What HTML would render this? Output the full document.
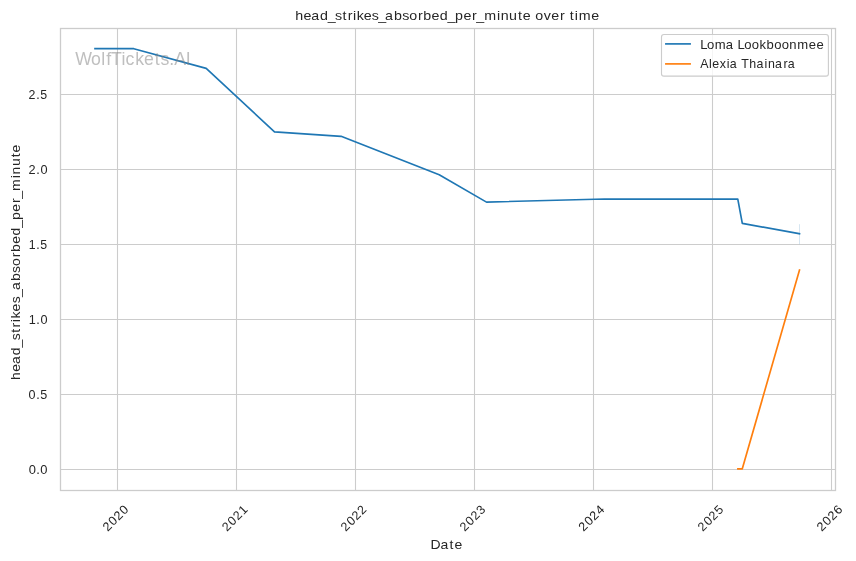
<!DOCTYPE html>
<html><head><meta charset="utf-8"><title>head_strikes_absorbed_per_minute over time</title>
<style>html,body{margin:0;padding:0;background:#fff;overflow:hidden;}svg{display:block;will-change:transform;}text{font-family:"Liberation Sans",sans-serif;}</style>
</head><body>
<svg width="856" height="561" viewBox="0 0 856 561">
<rect width="856" height="561" fill="#ffffff"/>
<path d="M117.5 28.5V490.5M236.5 28.5V490.5M355.5 28.5V490.5M474.5 28.5V490.5M593.5 28.5V490.5M712.5 28.5V490.5M831.5 28.5V490.5M60.5 94.5H835.5M60.5 169.5H835.5M60.5 244.5H835.5M60.5 319.5H835.5M60.5 394.5H835.5M60.5 469.5H835.5" stroke="#cccccc" stroke-width="1.1" fill="none"/>
<line x1="799.5" y1="224.2" x2="799.5" y2="244.2" stroke="#1f77b4" stroke-opacity="0.3" stroke-width="0.6"/>
<path d="M95.00 48.70 L133.80 48.70 L206.20 68.40 L274.50 131.90 L341.10 136.30 L439.20 174.70 L486.50 202.10 L604.50 199.00 L737.80 199.10 L742.30 223.40 L799.50 233.70" stroke="#1f77b4" stroke-width="1.67" fill="none" stroke-linecap="square" stroke-linejoin="round"/>
<path d="M737.90 468.80 L742.30 468.80 L799.50 270.00" stroke="#ff7f0e" stroke-width="1.67" fill="none" stroke-linecap="square" stroke-linejoin="round"/>
<rect x="60.5" y="28.5" width="775.0" height="462.0" fill="none" stroke="#cccccc" stroke-width="1.3"/>
<text transform="translate(75.298 64.600) scale(0.9838 1)" x="-0.12 15.87 26.38 31.42 36.35 46.85 51.14 61.00 69.86 80.79 86.68 95.63 100.61 112.38" y="0" font-size="18.0" fill="#808080" fill-opacity="0.5">WolfTickets.AI</text>
<rect x="661.5" y="34.5" width="166.90" height="41.60" rx="2.44" ry="2.44" fill="#ffffff" fill-opacity="0.8" stroke="#cccccc" stroke-width="1.11"/>
<line x1="665.9" y1="43.9" x2="690.1" y2="43.9" stroke="#1f77b4" stroke-width="1.67" stroke-linecap="square"/>
<text transform="translate(700.200 48.500) scale(1.0378 1)" x="0.02 6.44 14.08 24.71 32.41 36.06 42.48 49.70 57.17 63.96 71.25 78.48 85.85 93.60 104.72 111.98" y="0" font-size="12.6" fill="#262626" >Loma Lookboonmee</text>
<line x1="665.9" y1="63.9" x2="690.1" y2="63.9" stroke="#ff7f0e" stroke-width="1.67" stroke-linecap="square"/>
<text transform="translate(700.200 67.611) scale(0.9847 1)" x="0.04 8.84 12.31 19.86 27.06 30.03 38.03 41.71 49.80 57.09 65.20 68.78 76.05 84.54 88.79" y="0" font-size="12.6" fill="#262626" >Alexia Thainara</text>
<text transform="translate(28.244 98.500) scale(0.9939 1)" x="0.28 8.06 12.16" y="0" font-size="12.45" fill="#262626" >2.5</text>
<text transform="translate(28.369 173.500) scale(1.0208 1)" x="0.19 7.80 11.79" y="0" font-size="12.45" fill="#262626" >2.0</text>
<text transform="translate(28.244 248.500) scale(0.9898 1)" x="0.40 8.10 12.22" y="0" font-size="12.45" fill="#262626" >1.5</text>
<text transform="translate(28.369 323.500) scale(1.0175 1)" x="0.29 7.83 11.84" y="0" font-size="12.45" fill="#262626" >1.0</text>
<text transform="translate(28.244 398.500) scale(1.0110 1)" x="0.38 7.90 11.89" y="0" font-size="12.45" fill="#262626" >0.5</text>
<text transform="translate(28.369 473.500) scale(1.0373 1)" x="0.28 7.65 11.55" y="0" font-size="12.45" fill="#262626" >0.0</text>
<text transform="translate(107.515 532.047) rotate(-45) scale(1.0166 1)" x="0.20 8.03 15.53 23.36" y="0" font-size="12.45" fill="#262626" >2020</text>
<text transform="translate(226.732 532.047) rotate(-45) scale(1.0051 1)" x="0.24 8.16 15.75 23.60" y="0" font-size="12.45" fill="#262626" >2021</text>
<text transform="translate(345.623 532.047) rotate(-45) scale(1.0072 1)" x="0.24 8.13 15.71 23.45" y="0" font-size="12.45" fill="#262626" >2022</text>
<text transform="translate(464.515 532.047) rotate(-45) scale(1.0061 1)" x="0.24 8.15 15.73 23.65" y="0" font-size="12.45" fill="#262626" >2023</text>
<text transform="translate(583.406 532.047) rotate(-45) scale(1.0169 1)" x="0.20 8.02 15.53 23.35" y="0" font-size="12.45" fill="#262626" >2024</text>
<text transform="translate(702.579 532.135) rotate(-45) scale(1.0018 1)" x="0.26 8.20 15.82 23.71" y="0" font-size="12.45" fill="#262626" >2025</text>
<text transform="translate(821.515 532.047) rotate(-45) scale(1.0255 1)" x="0.17 7.93 15.37 23.13" y="0" font-size="12.45" fill="#262626" >2026</text>
<text transform="translate(294.875 19.833) scale(1.0800 1)" x="0.25 8.00 15.11 23.23 30.36 37.11 44.12 48.99 53.77 57.31 63.81 71.28 77.17 83.57 91.84 99.38 105.94 113.97 118.82 126.51 134.15 141.28 148.35 156.04 164.08 168.04 175.34 187.11 190.57 198.36 206.55 211.00 218.60 222.52 230.34 237.47 245.50 250.15 254.51 259.07 262.81 274.47" y="0" font-size="13.2" fill="#262626" >head_strikes_absorbed_per_minute over time</text>
<text transform="translate(430.438 548.701) scale(1.0610 1)" x="0.09 9.41 18.03 22.59" y="0" font-size="13.2" fill="#262626" >Date</text>
<text transform="translate(20.300 380.375) rotate(-90) scale(1.0580 1)" x="0.33 8.24 15.51 23.79 31.07 37.96 45.07 50.06 54.92 58.59 65.22 72.84 78.86 85.39 93.83 101.52 108.22 116.40 121.37 129.22 137.02 144.30 151.52 159.37 167.55 171.62 179.11 191.04 194.61 202.57 210.89 215.48" y="0" font-size="13.2" fill="#262626" >head_strikes_absorbed_per_minute</text>
</svg>
</body></html>
